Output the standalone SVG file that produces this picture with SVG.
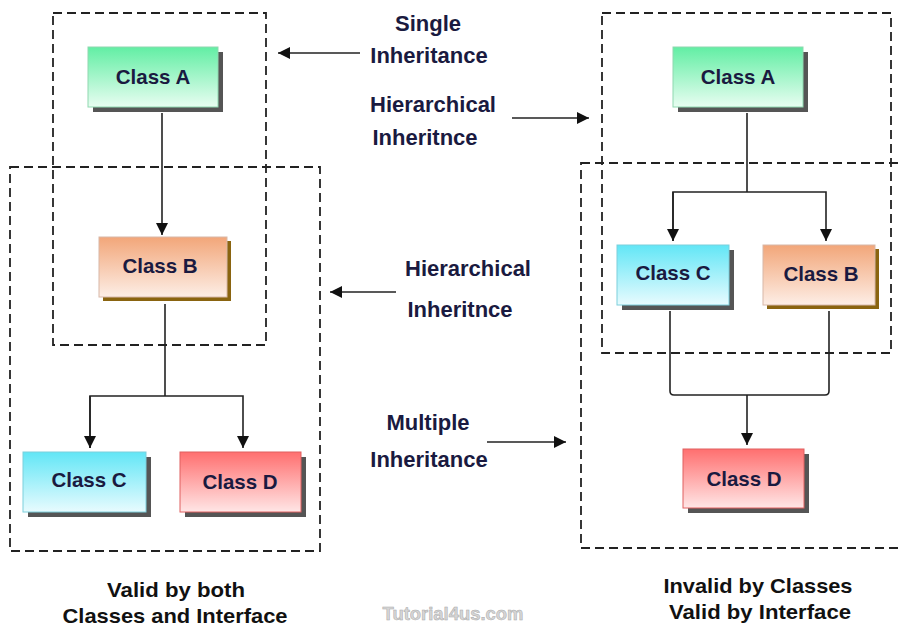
<svg xmlns="http://www.w3.org/2000/svg" width="901" height="628" viewBox="0 0 901 628">
<style>
.dash{fill:none;stroke:#222;stroke-width:1.8;stroke-dasharray:9 5}
.conn{fill:none;stroke:#222;stroke-width:1.6}
.lbl{font-family:"Liberation Sans",Arial,sans-serif;font-weight:bold;font-size:20.5px;fill:#1a1a40;text-anchor:middle}
.mid{font-family:"Liberation Sans",Arial,sans-serif;font-weight:bold;font-size:22px;fill:#1a1a40;text-anchor:middle}
.cap{font-family:"Liberation Sans",Arial,sans-serif;font-weight:bold;font-size:21px;fill:#111;text-anchor:middle}
.shadow{fill:#555}
</style>
<defs>
<linearGradient id="gGreen" x1="0" y1="0" x2="0" y2="1"><stop offset="0" stop-color="#62eea4"/><stop offset="1" stop-color="#e8fdf1"/></linearGradient>
<linearGradient id="gOrange" x1="0" y1="0" x2="0" y2="1"><stop offset="0" stop-color="#f2a679"/><stop offset="1" stop-color="#fdeee6"/></linearGradient>
<linearGradient id="gCyan" x1="0" y1="0" x2="0" y2="1"><stop offset="0" stop-color="#62e6f6"/><stop offset="1" stop-color="#e8fbfe"/></linearGradient>
<linearGradient id="gRed" x1="0" y1="0" x2="0" y2="1"><stop offset="0" stop-color="#ff6f6f"/><stop offset="1" stop-color="#ffe6e6"/></linearGradient>
<marker id="arr" markerUnits="userSpaceOnUse" markerWidth="13" markerHeight="12" refX="12" refY="6" orient="auto">
<path d="M0,0 L12,6 L0,12 z" fill="#111"/>
</marker>
</defs>

<g id="frames">
<rect class="dash" x="53" y="13" width="213" height="332"/>
<rect class="dash" x="10" y="167" width="310" height="384"/>
<rect class="dash" x="602" y="13" width="289" height="340"/>
<rect class="dash" x="581" y="163" width="330" height="385"/>
</g>

<g id="connectors">
<line class="conn" x1="162" y1="113" x2="162" y2="235" marker-end="url(#arr)"/>
<path class="conn" d="M165,304 V396"/>
<path class="conn" d="M90,448 V396 H243 V448" marker-end="url(#arr)"/>
<path class="conn" d="M90,396 V448" marker-end="url(#arr)"/>
<line class="conn" x1="747" y1="113" x2="747" y2="192"/>
<path class="conn" d="M673,241 V192 H826 V241" marker-end="url(#arr)"/>
<path class="conn" d="M673,192 V241" marker-end="url(#arr)"/>
<path class="conn" d="M670,311 V391 Q670,395 674,395 H825 Q829,395 829,391 V311"/>
<line class="conn" x1="747" y1="395" x2="747" y2="445" marker-end="url(#arr)"/>
<line class="conn" x1="360" y1="53" x2="278" y2="53" marker-end="url(#arr)"/>
<line class="conn" x1="512" y1="118" x2="589" y2="118" marker-end="url(#arr)"/>
<line class="conn" x1="396" y1="292" x2="330" y2="292" marker-end="url(#arr)"/>
<line class="conn" x1="487" y1="442" x2="566" y2="442" marker-end="url(#arr)"/>
</g>

<g id="left-classA">
<rect class="shadow" x="93" y="52" width="130" height="60"/>
<rect x="88" y="47" width="130" height="60" fill="url(#gGreen)" stroke="#8fd8b0" stroke-width="1"/>
<text class="lbl" x="153" y="84">Class A</text>
</g>
<g id="left-classB">
<rect x="103" y="241" width="128" height="60" fill="#8a6410"/>
<rect x="99" y="237" width="128" height="60" fill="url(#gOrange)" stroke="#d8b8a8" stroke-width="1"/>
<text class="lbl" x="160" y="273">Class B</text>
</g>
<g id="left-classC">
<rect class="shadow" x="28" y="457" width="123" height="60"/>
<rect x="23" y="452" width="123" height="60" fill="url(#gCyan)" stroke="#7ccfdc" stroke-width="1"/>
<text class="lbl" x="89" y="487">Class C</text>
</g>
<g id="left-classD">
<rect class="shadow" x="185" y="457" width="121" height="60"/>
<rect x="180" y="452" width="121" height="60" fill="url(#gRed)" stroke="#e06060" stroke-width="1"/>
<text class="lbl" x="240" y="489">Class D</text>
</g>

<g id="right-classA">
<rect class="shadow" x="678" y="52" width="130" height="60"/>
<rect x="673" y="47" width="130" height="60" fill="url(#gGreen)" stroke="#8fd8b0" stroke-width="1"/>
<text class="lbl" x="738" y="84">Class A</text>
</g>
<g id="right-classC">
<rect class="shadow" x="622" y="250" width="112" height="60"/>
<rect x="617" y="245" width="112" height="60" fill="url(#gCyan)" stroke="#7ccfdc" stroke-width="1"/>
<text class="lbl" x="673" y="280">Class C</text>
</g>
<g id="right-classB">
<rect x="767" y="249" width="112" height="60" fill="#8a6410"/>
<rect x="763" y="245" width="112" height="60" fill="url(#gOrange)" stroke="#d8b8a8" stroke-width="1"/>
<text class="lbl" x="821" y="281">Class B</text>
</g>
<g id="right-classD">
<rect class="shadow" x="688" y="454" width="121" height="59"/>
<rect x="683" y="449" width="121" height="59" fill="url(#gRed)" stroke="#e06060" stroke-width="1"/>
<text class="lbl" x="744" y="486">Class D</text>
</g>

<g id="labels">
<text class="mid" x="428" y="31">Single</text>
<text class="mid" x="429" y="63">Inheritance</text>
<text class="mid" x="433" y="112">Hierarchical</text>
<text class="mid" x="425" y="145">Inheritnce</text>
<text class="mid" x="468" y="276">Hierarchical</text>
<text class="mid" x="460" y="317">Inheritnce</text>
<text class="mid" x="428" y="430">Multiple</text>
<text class="mid" x="429" y="467">Inheritance</text>
<text class="cap" x="176" y="597" textLength="138" lengthAdjust="spacingAndGlyphs">Valid by both</text>
<text class="cap" x="175" y="623" textLength="225" lengthAdjust="spacingAndGlyphs">Classes and Interface</text>
<text class="cap" x="758" y="593" textLength="189" lengthAdjust="spacingAndGlyphs">Invalid by Classes</text>
<text class="cap" x="760" y="619" textLength="182" lengthAdjust="spacingAndGlyphs">Valid by Interface</text>
<text x="453" y="620" font-family="Liberation Sans, Arial, sans-serif" font-size="18" font-weight="bold" fill="#d6d6d6" stroke="#aaa" stroke-width="0.5" text-anchor="middle" textLength="141" lengthAdjust="spacingAndGlyphs">Tutorial4us.com</text>
</g>
</svg>
